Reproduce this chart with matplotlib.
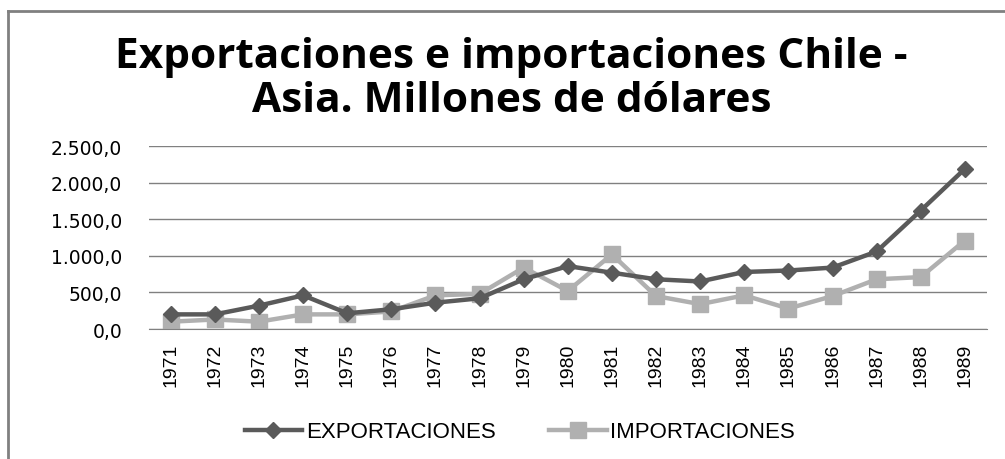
import matplotlib
matplotlib.use("Agg")
import matplotlib.pyplot as plt
from matplotlib.ticker import FuncFormatter, FixedLocator
from matplotlib.lines import Line2D

years = [str(y) for y in range(1971, 1990)]
exportaciones = [200, 200, 320, 460, 215, 270, 360, 420, 680, 860,
                 770, 680, 650, 780, 800, 840, 1060, 1620, 2190]
importaciones = [100, 130, 100, 200, 200, 240, 460, 480, 840, 520,
                 1020, 450, 340, 460, 280, 450, 680, 710, 1210]
y_ticks = [0, 500, 1000, 1500, 2000, 2500]
title_lines = ["Exportaciones e importaciones Chile -",
               "Asia. Millones de dólares"]

DARK = "#5a5a5a"
LIGHT = "#b0b0b0"


def fmt_es(v, _pos=None):
    s = f"{v:,.1f}"
    return s.replace(",", "X").replace(".", ",").replace("X", ".")


fig = plt.figure(figsize=(10.05, 4.6), dpi=100)
ax = fig.add_axes([0.148, 0.2826, 0.834, 0.3974])

x = list(range(len(years)))
ax.plot(x, exportaciones, color=DARK, lw=3.2, marker="D", ms=8.5,
        label="EXPORTACIONES", zorder=3)
ax.plot(x, importaciones, color=LIGHT, lw=3.2, marker="s", ms=11,
        label="IMPORTACIONES", zorder=2)

ax.set_xlim(-0.5, len(years) - 0.5)
ax.set_ylim(0, 2500)
ax.yaxis.set_major_locator(FixedLocator(y_ticks))
ax.yaxis.set_major_formatter(FuncFormatter(fmt_es))
ax.set_xticks(x)
ax.set_xticklabels(years, rotation=90, fontsize=14,
                   family=["Liberation Sans", "DejaVu Sans"])
ax.tick_params(axis="y", labelsize=13.5, length=0, pad=19)
ax.tick_params(axis="x", length=0, pad=10)
for lab in ax.get_yticklabels():
    lab.set_family("DejaVu Sans")

ax.grid(axis="y", color="#808080", lw=1.0)
ax.set_axisbelow(True)
for side in ["top", "right", "left"]:
    ax.spines[side].set_visible(False)
ax.spines["bottom"].set_color("#808080")

# title, two lines drawn at the reference baselines
for line, ypix in zip(title_lines, [68, 112]):
    fig.text(0.509, 1 - ypix / 460, line, ha="center", va="baseline",
             fontsize=30.5, fontweight="bold",
             family=["Open Sans", "DejaVu Sans"])

handles = [Line2D([], [], color=DARK, lw=3.2, marker="D", ms=8.5),
           Line2D([], [], color=LIGHT, lw=3.2, marker="s", ms=11)]
fig.legend(handles, ["EXPORTACIONES", "IMPORTACIONES"], loc="center",
           bbox_to_anchor=(0.517, 0.059), ncol=2, frameon=False,
           prop={"family": ["Liberation Sans", "DejaVu Sans"], "size": 16},
           handlelength=2.6, handletextpad=0.15, columnspacing=2.4)

# chart frame (top and left edges visible)
fig.add_artist(Line2D([0.008, 1.0], [0.974, 0.974], color="#808080", lw=2,
                      transform=fig.transFigure))
fig.add_artist(Line2D([0.008, 0.008], [0.0, 0.974], color="#808080", lw=2,
                      transform=fig.transFigure))

fig.savefig("out.png", dpi=100, facecolor="white")
